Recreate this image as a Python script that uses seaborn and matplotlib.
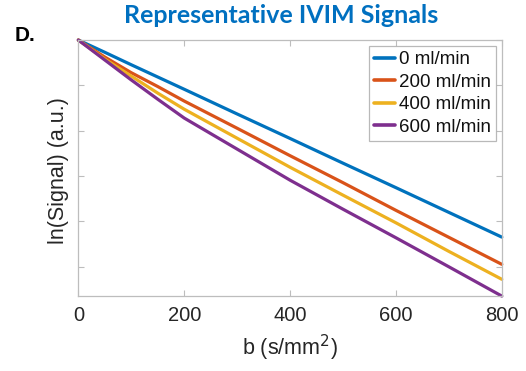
import numpy as np
import pandas as pd
import seaborn as sns
import matplotlib
matplotlib.use("Agg")
import matplotlib.pyplot as plt

# b-values (s/mm^2) and simulated log signal for each perfusion rate
b_values = [0, 50, 100, 150, 200, 300, 400, 500, 600, 700, 800]
sig_0 = [0, -0.054, -0.109, -0.163, -0.217, -0.326, -0.434, -0.543, -0.651, -0.760, -0.869]
sig_200 = [0, -0.075, -0.144, -0.205, -0.269, -0.389, -0.510, -0.629, -0.751, -0.870, -0.989]
sig_400 = [0, -0.084, -0.159, -0.234, -0.305, -0.433, -0.561, -0.684, -0.806, -0.932, -1.055]
sig_600 = [0, -0.088, -0.176, -0.261, -0.344, -0.481, -0.618, -0.746, -0.872, -1.000, -1.129]
flow_labels = ["0 ml/min", "200 ml/min", "400 ml/min", "600 ml/min"]
x_ticks = [0, 200, 400, 600, 800]
y_ticks = [0, -0.2, -0.4, -0.6, -0.8, -1.0]

colors = ["#0072BD", "#D95319", "#EDB120", "#7E2F8E"]

df = pd.concat(
    [pd.DataFrame({"b": b_values, "lnS": s, "flow": lab})
     for s, lab in zip([sig_0, sig_200, sig_400, sig_600], flow_labels)],
    ignore_index=True,
)

sns.set_theme(style="white")
plt.rcParams["font.family"] = ["Liberation Sans", "DejaVu Sans"]

fig = plt.figure(figsize=(5.26, 3.71), dpi=100)
ax = fig.add_axes([0.149, 0.202, 0.805, 0.690])

sns.lineplot(data=df, x="b", y="lnS", hue="flow", hue_order=flow_labels,
             palette=colors, linewidth=2.3, ax=ax, clip_on=False)

ax.set_xlim(0, 800)
ax.set_ylim(min(sig_600), 0)
ax.set_xticks(x_ticks)
ax.set_xticklabels([str(t) for t in x_ticks])
ax.set_yticks(y_ticks)
ax.set_yticklabels([])

spine_col = "#bdbdbd"
for s in ax.spines.values():
    s.set_visible(True)
    s.set_color(spine_col)
    s.set_linewidth(0.9)
ax.tick_params(axis="both", which="major", direction="in", length=4,
               width=0.8, color=spine_col, top=True, right=True,
               bottom=True, left=True,
               labelsize=14.5, labelcolor="#262626", pad=7)

ax.set_xlabel("b (s/mm$^2$)", fontsize=15.5, color="#262626", labelpad=6)
ax.set_ylabel("ln(Signal) (a.u.)", fontsize=15.5, color="#262626")
ax.yaxis.set_label_coords(-0.022, 0.49)

leg = ax.legend(loc="upper right", fontsize=13.5, frameon=True, fancybox=False,
                handlelength=1.1, handletextpad=0.2, labelspacing=0.28,
                borderpad=0.3, borderaxespad=0.3)
leg.get_frame().set_edgecolor("#a8a8a8")
leg.get_frame().set_linewidth(0.9)
for line in leg.get_lines():
    line.set_linewidth(2.6)
for t in leg.get_texts():
    t.set_color("#111111")

fig.text(0.534, 0.938, "Representative IVIM Signals", ha="center", va="baseline",
         fontsize=18, fontweight="bold", color="#0070C0",
         family=["Lato", "DejaVu Sans"])
fig.text(0.027, 0.889, "D.", ha="left", va="baseline", fontsize=15,
         fontweight="bold", color="black")

fig.savefig("out.png", dpi=100)
